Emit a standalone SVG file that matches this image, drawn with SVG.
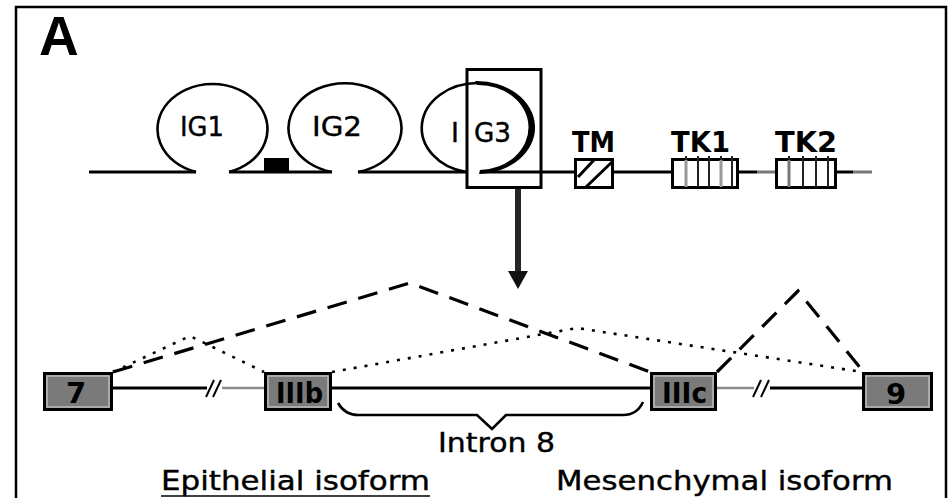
<svg xmlns="http://www.w3.org/2000/svg" width="949" height="498" viewBox="0 0 949 498">
<style>
.ln{stroke:#000;stroke-width:3;fill:none}
.loop{stroke:#000;stroke-width:2.6;fill:none}
.lbl{font-family:"DejaVu Sans","Liberation Sans",sans-serif;font-size:27px;fill:#000;stroke:#000;stroke-width:0.4}
.bl{font-family:"DejaVu Sans","Liberation Sans",sans-serif;font-size:28px;font-weight:bold;fill:#000}
.ex{font-family:"DejaVu Sans","Liberation Sans",sans-serif;font-size:29px;font-weight:bold;fill:#000}
.exbox{fill:#7a7a7a;stroke:#000;stroke-width:3}
.exin{fill:none;stroke:#b8b8b8;stroke-width:1.6}
.dash{stroke:#000;stroke-width:3.2;fill:none;stroke-dasharray:20 12}
.dot{stroke:#000;stroke-width:2.6;fill:none;stroke-dasharray:3 8}
.dom{fill:#fff;stroke:#000;stroke-width:3}
.bar{stroke:#222;stroke-width:2}
</style>
<g id="frame">
<path d="M16,498 V7 H946 V498" stroke="#000" stroke-width="2.5" fill="none"/>
</g>
<text id="panel-label" x="39" y="55" font-family="Liberation Sans,Arial,sans-serif" font-weight="bold" font-size="55">A</text>

<g id="connectors">
<path class="ln" d="M89,172 H196 M229,172 H332 M358,172 H466 M480,172 H574 M614,172 H671 M739,172 H757 M837,172 H853"/>
<path d="M757,172 H775 M853,172 H872" stroke="#777" stroke-width="3"/>
<line x1="518" y1="189" x2="518" y2="274" stroke="#262626" stroke-width="6"/>
<polygon points="508,271 528,271 518,289" fill="#111"/>
<path class="ln" d="M113,388 H207" stroke-width="2.6"/>
<path d="M222,388 H264" stroke="#8c8c8c" stroke-width="2.6"/>
<path d="M206,397 L214,380 M213,397 L221,380" stroke="#000" stroke-width="2"/>
<path class="ln" d="M332,388 H650" stroke-width="2.6"/>
<path class="ln" d="M770,388 H862" stroke-width="2.6"/>
<path d="M717,388 H754" stroke="#8c8c8c" stroke-width="2.6"/>
<path d="M753,397 L761,380 M761,397 L769,380" stroke="#000" stroke-width="2"/>
<path d="M338,403 Q345,415 358,415 H477 L492,429 L506,415 H623 Q637,415 643,402" stroke="#000" stroke-width="2.6" fill="none"/>
<path class="dash" d="M113,372 L410,283 L650,372"/>
<path class="dash" d="M717,372 L798,291 L862,370"/>
<path class="dot" d="M113,372 L190,336 L264,372"/>
<path class="dot" d="M332,372 L577,328 L862,372"/>
</g>

<g id="IG1">
<path class="loop" d="M196,172 A55 45 0 1 1 229,172"/>
<text class="lbl" x="202" y="136" text-anchor="middle" textLength="44" lengthAdjust="spacingAndGlyphs">IG1</text>
</g>
<g id="linker">
<rect x="264" y="158" width="25" height="14" fill="#000"/>
</g>
<g id="IG2">
<path class="loop" d="M332,172 A56.5 45 0 1 1 358,172"/>
<text class="lbl" x="337" y="136" text-anchor="middle" textLength="50" lengthAdjust="spacingAndGlyphs">IG2</text>
</g>
<g id="IG3">
<path class="loop" d="M466,172 A56 45 0 0 1 478,83"/>
<path d="M475,81 A58 46.5 0 0 1 479,174 L480,170 A50 42.5 0 0 0 477,85 Z" fill="#000"/>
<text class="lbl" y="142"><tspan x="451">I</tspan><tspan x="474" textLength="37" lengthAdjust="spacingAndGlyphs">G3</tspan></text>
<rect x="467" y="69.5" width="74" height="118" fill="none" stroke="#000" stroke-width="3"/>
</g>
<g id="TM">
<rect class="dom" x="575.5" y="159.5" width="37" height="28"/>
<path d="M578,177 L594,160 M586,187 L612,162" stroke="#000" stroke-width="3"/>
<text class="bl" x="593.5" y="152" text-anchor="middle" textLength="43" lengthAdjust="spacingAndGlyphs">TM</text>
</g>
<g id="TK1">
<rect class="dom" x="672.5" y="159.5" width="65" height="28"/>
<path class="bar" d="M686,156 V187 M698,156 V187 M709,156 V187 M721,156 V187 M732,156 V187"/>
<path d="M686,160 V187 M721,160 V187" stroke="#999" stroke-width="3"/>
<text class="bl" x="700.5" y="152" text-anchor="middle" textLength="59" lengthAdjust="spacingAndGlyphs">TK1</text>
</g>
<g id="TK2">
<rect class="dom" x="776.5" y="159.5" width="59" height="28"/>
<path class="bar" d="M789,156 V187 M803,156 V187 M816,156 V187 M828,156 V187"/>
<path d="M789,160 V187" stroke="#777" stroke-width="3"/>
<text class="bl" x="806" y="152" text-anchor="middle" textLength="62" lengthAdjust="spacingAndGlyphs">TK2</text>
</g>

<g id="exon7">
<rect class="exbox" x="44.5" y="373.5" width="67" height="36"/>
<rect class="exin" x="47" y="376" width="62" height="31"/>
<text class="ex" x="76" y="403" text-anchor="middle">7</text>
</g>
<g id="exonIIIb">
<rect class="exbox" x="265.5" y="373.5" width="65" height="36"/>
<rect class="exin" x="268" y="376" width="60" height="31"/>
<text class="ex" x="299.5" y="403" text-anchor="middle" textLength="47" lengthAdjust="spacingAndGlyphs">IIIb</text>
</g>
<g id="exonIIIc">
<rect class="exbox" x="651.5" y="373.5" width="64" height="36"/>
<rect class="exin" x="654" y="376" width="59" height="31"/>
<text class="ex" x="684.5" y="403" text-anchor="middle" textLength="45" lengthAdjust="spacingAndGlyphs">IIIc</text>
</g>
<g id="exon9">
<rect class="exbox" x="863.5" y="373.5" width="68" height="36"/>
<rect class="exin" x="866" y="376" width="63" height="31"/>
<text class="ex" x="896" y="404" text-anchor="middle">9</text>
</g>

<g id="labels">
<text class="lbl" x="496.5" y="452" text-anchor="middle" textLength="117" lengthAdjust="spacingAndGlyphs">Intron 8</text>
<text class="lbl" x="161" y="490" font-size="26" textLength="269" lengthAdjust="spacingAndGlyphs">Epithelial isoform</text>
<line x1="161" y1="496" x2="430" y2="496" stroke="#000" stroke-width="1.5"/>
<text class="lbl" x="556" y="490" font-size="26" textLength="337" lengthAdjust="spacingAndGlyphs">Mesenchymal isoform</text>
</g>
</svg>
